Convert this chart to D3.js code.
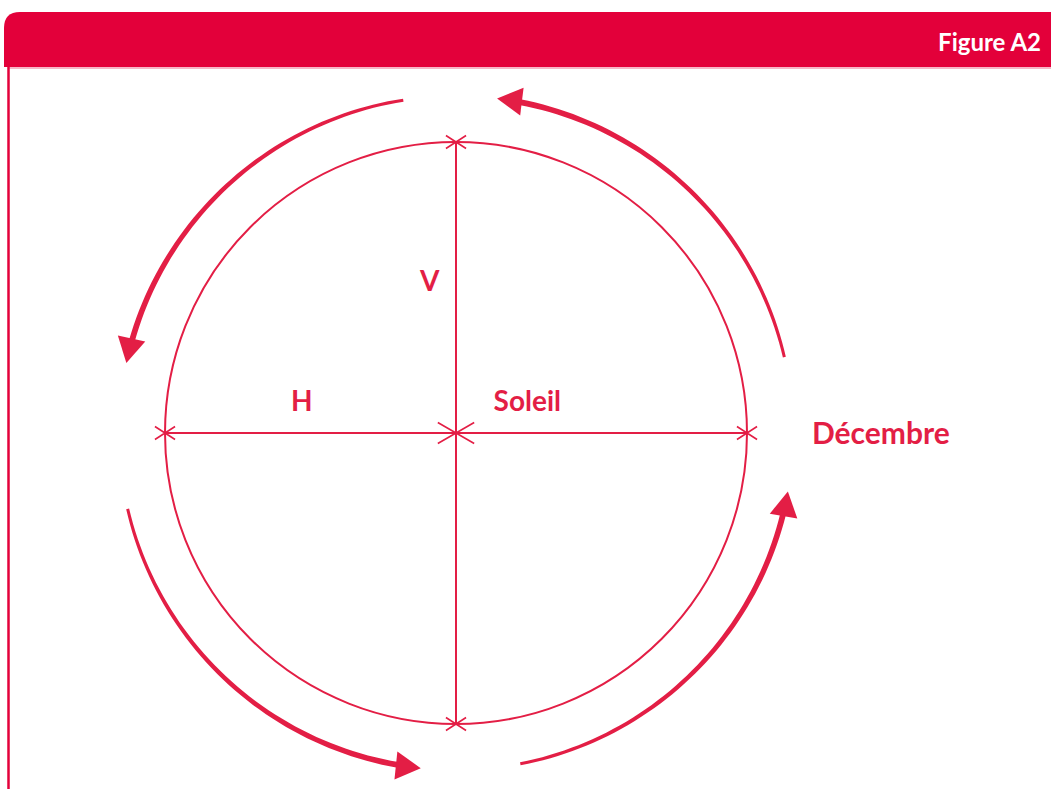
<!DOCTYPE html>
<html>
<head>
<meta charset="utf-8">
<script src="https://cdn.jsdelivr.net/npm/d3@7"></script>
<style>
  html, body { margin: 0; padding: 0; background: #fff; }
  svg { display: block; }
  text { font-family: "Lato", "Open Sans", sans-serif; font-weight: 700; }
</style>
</head>
<body>
<div class="chart"></div>
<script>
// figure data
const figureTitle = 'Figure A2';
// axis ends of the cross, in circle units
const axisEnds = [[-1, 0], [1, 0], [0, 1], [0, -1]];
// the arrows go around the circle, angles in degrees (screen, clockwise from east)
const arrowStarts = [261, 347, 79, 167];
const arrowEnds = [192, 277, 10, 96];
const labelNames = ['V', 'H', 'Soleil', 'Décembre'];
const labelPos = [[-0.09, 0.52], [-0.53, 0.11], [0.245, 0.11], [1.46, 0]];

const red = '#e3003a';
const ink = '#e31e45';

const W = 1051, H = 789;
const cx = 456, cy = 433, R = 291;
const ringR = 337 / R;

let svg = d3.select('.chart')
  .append('svg')
  .attr('width', W)
  .attr('height', H);

let x = d3.scaleLinear().domain([-1, 1]).range([cx - R, cx + R]);
let y = d3.scaleLinear().domain([-1, 1]).range([cy + R, cy - R]);
let toRad = d => d * Math.PI / 180;

// header band with rounded left corner
svg.append('path')
  .attr('d', `M4,67 L4,${12 + 16} Q4,12 ${4 + 16},12 L${W + 20},12 L${W + 20},67 Z`)
  .attr('fill', red);
svg.append('line')
  .attr('x1', 8).attr('x2', W)
  .attr('y1', 68).attr('y2', 68)
  .attr('stroke', '#f07090').attr('stroke-width', 1);
svg.append('line')
  .attr('x1', 8.5).attr('x2', 8.5)
  .attr('y1', 67).attr('y2', H)
  .attr('stroke', red).attr('stroke-width', 2.5);
svg.append('text')
  .attr('x', 1041).attr('y', 51)
  .attr('text-anchor', 'end')
  .attr('fill', '#fff')
  .attr('font-size', 24)
  .text(figureTitle);

let g = svg.append('g');

// circle
g.append('circle')
  .attr('cx', x(0)).attr('cy', y(0))
  .attr('r', x(1) - x(0))
  .attr('fill', 'none')
  .attr('stroke', ink)
  .attr('stroke-width', 2);

// cross lines
g.append('line')
  .attr('x1', x(-1)).attr('x2', x(1))
  .attr('y1', y(0)).attr('y2', y(0))
  .attr('stroke', ink).attr('stroke-width', 2);
g.append('line')
  .attr('x1', x(0)).attr('x2', x(0))
  .attr('y1', y(1)).attr('y2', y(-1))
  .attr('stroke', ink).attr('stroke-width', 2);

// x marks
function cross(px, py, len, ang) {
  let a = toRad(ang);
  let dx = Math.cos(a) * len, dy = Math.sin(a) * len;
  g.append('path')
    .attr('d', `M${px - dx},${py - dy}L${px + dx},${py + dy}M${px - dx},${py + dy}L${px + dx},${py - dy}`)
    .attr('stroke', ink).attr('stroke-width', 1.6).attr('fill', 'none');
}
axisEnds.forEach(d => cross(x(d[0]), y(d[1]), 12, 33));
cross(x(0), y(0), 21, 30);

// tapered arrows
let ring = x(ringR) - x(0);
let arrowGroup = g.append('g').attr('transform', `translate(${x(0)},${y(0)})`);
let area = d3.areaRadial()
  .angle(d => toRad(d.a + 90))
  .innerRadius(d => ring - d.w / 2)
  .outerRadius(d => ring + d.w / 2)
  .curve(d3.curveLinear);

arrowStarts.forEach((s, i) => {
  let e = arrowEnds[i];
  let headLen = 25, headW = 28;
  let stop = e + (headLen - 2) / ring * 180 / Math.PI;
  let pts = d3.range(0, 1.0001, 0.02).map(t => ({ a: s + (stop - s) * t, w: 3 + 2.8 * t }));
  arrowGroup.append('path')
    .attr('d', area(pts))
    .attr('fill', ink);

  let th = toRad(e);
  let px = Math.cos(th) * ring, py = Math.sin(th) * ring;
  let dx = Math.sin(th), dy = -Math.cos(th);
  let nx = -dy, ny = dx;
  let bx = px - dx * headLen, by = py - dy * headLen;
  arrowGroup.append('path')
    .attr('d', `M${px},${py}L${bx + nx * headW / 2},${by + ny * headW / 2}L${bx - nx * headW / 2},${by - ny * headW / 2}Z`)
    .attr('fill', ink);
});

// labels
g.selectAll('.label')
  .data(labelNames)
  .enter()
  .append('text')
  .attr('class', 'label')
  .attr('x', (d, i) => x(labelPos[i][0]))
  .attr('y', (d, i) => y(labelPos[i][1]))
  .attr('dy', '0.35em')
  .attr('text-anchor', 'middle')
  .attr('fill', ink)
  .attr('font-size', (d, i) => i === 3 ? 30 : 28)
  .text(d => d);
</script>
</body>
</html>
